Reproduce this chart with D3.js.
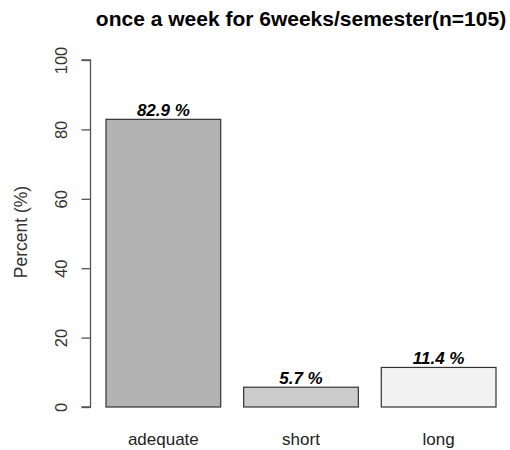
<!DOCTYPE html>
<html>
<head>
<meta charset="utf-8">
<script src="https://cdn.jsdelivr.net/npm/d3@7"></script>
<style>
  body { margin: 0; background: #fff; }
  svg text { font-family: "Liberation Sans", Arial, sans-serif; }
</style>
</head>
<body>
<div id="chart"></div>
<script>
// data
var categories = ["adequate", "short", "long"];
var percents = [82.9, 5.7, 11.4];
var barColors = ["#b3b3b3", "#cccccc", "#f2f2f2"];
var yTicks = [0, 20, 40, 60, 80, 100];

const width = 510
const height = 450

var svg = d3.select("#chart").append("svg")
    .attr("width", width)
    .attr("height", height)

var x = d3.scaleBand().domain(categories).range([106, 496]).paddingInner(0.2 / 1.2).paddingOuter(0)
var y = d3.scaleLinear().domain([0, 100]).range([407, 60])

// title
svg.append("text")
    .attr("x", 301).attr("y", 26)
    .attr("text-anchor", "middle")
    .style("font-size", "21px").style("font-weight", "bold")
    .text("once a week for 6weeks/semester(n=105)")

// y axis
var yAxis = svg.append("g")
    .attr("transform", "translate(90.5,0)")
    .call(d3.axisLeft(y).tickValues(yTicks).tickSize(9).tickPadding(0))
yAxis.select(".domain").attr("stroke", "#555").attr("stroke-width", 1.3).attr("d", "M-9," + y(100) + "H0V" + y(0) + "H-9")
yAxis.selectAll(".tick line").attr("stroke", "#555").attr("stroke-width", 1.3)
yAxis.selectAll(".tick text")
    .attr("x", 0).attr("dy", null)
    .attr("transform", "translate(-23.5,0) rotate(-90)")
    .attr("text-anchor", "middle")
    .style("font-size", "16.5px").attr("fill", "#333")

// y label
svg.append("text")
    .attr("transform", "translate(27,232) rotate(-90)")
    .attr("text-anchor", "middle")
    .style("font-size", "17.5px").attr("fill", "#333")
    .text("Percent (%)")

// bars
svg.selectAll(".bar")
    .data(categories)
    .enter()
    .append("rect")
    .attr("class", "bar")
    .attr("x", d => x(d))
    .attr("y", (d, i) => y(percents[i]))
    .attr("width", x.bandwidth())
    .attr("height", (d, i) => y(0) - y(percents[i]))
    .attr("fill", (d, i) => barColors[i])
    .attr("stroke", "#333")
    .attr("stroke-width", 1.2)

// value labels
svg.selectAll(".val")
    .data(categories)
    .enter()
    .append("text")
    .attr("class", "val")
    .attr("x", d => x(d) + x.bandwidth() / 2)
    .attr("y", (d, i) => y(percents[i]) - 3)
    .attr("text-anchor", "middle")
    .style("font-size", "17px").style("font-weight", "bold").style("font-style", "italic")
    .text((d, i) => percents[i].toFixed(1) + " %")

// category labels
svg.selectAll(".cat")
    .data(categories)
    .enter()
    .append("text")
    .attr("class", "cat")
    .attr("x", d => x(d) + x.bandwidth() / 2)
    .attr("y", 445)
    .attr("text-anchor", "middle")
    .style("font-size", "17px").attr("fill", "#222")
    .text(d => d)
</script>
</body>
</html>
